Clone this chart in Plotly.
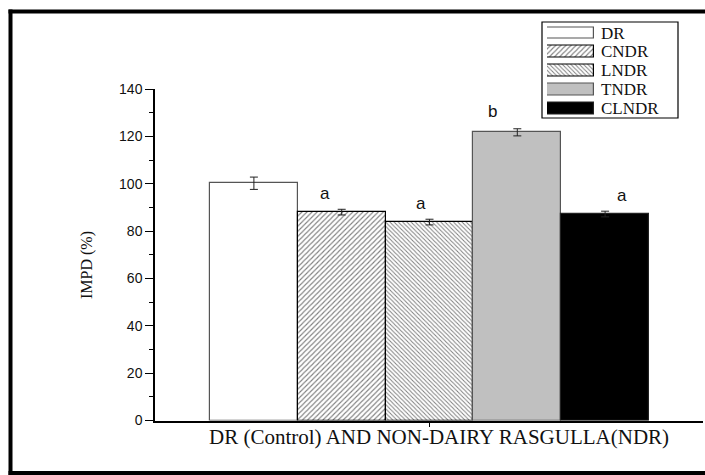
import plotly.graph_objects as go

# Sample groups, mean IMPD (%) and standard deviation
samples = ["DR", "CNDR", "LNDR", "TNDR", "CLNDR"]
impd = [100.2, 88.0, 83.8, 121.7, 87.2]
impd_sd = [2.6, 1.2, 1.2, 1.5, 1.2]
letters = ["", "a", "a", "b", "a"]

y_ticks = [0, 20, 40, 60, 80, 100, 120, 140]
x_title = "DR (Control) AND NON-DAIRY RASGULLA(NDR)"
y_title = "IMPD (%)"

# Per-sample bar styling: fill, hatch, outline
fills = ["white", "white", "white", "#c0c0c0", "black"]
hatches = ["", "/", "\\", "", ""]
hatch_sizes = [6, 3.6, 3.0, 6, 6]
hatch_solidity = [0, 0.3, 0.33, 0, 0]
outlines = ["#555555", "black", "black", "#555555", "#222222"]

SERIF = "Liberation Serif, Times New Roman, serif"
SANS = "Liberation Sans, Arial, sans-serif"

W, H = 705, 475
# Main plot box in pixels
PL, PR, PT, PB = 155, 703, 89, 420.5
center_px = 429.5
bar_px = 87.8
x_lo = -(center_px - PL) / bar_px
x_hi = (PR - center_px) / bar_px


def px_x(px):
    return px / W


def px_y(py):
    return 1 - py / H


def marker_for(i):
    m = dict(color=fills[i], line=dict(color=outlines[i], width=1.2))
    if hatches[i]:
        m["pattern"] = dict(shape=hatches[i], size=hatch_sizes[i],
                            solidity=hatch_solidity[i],
                            fgcolor="black", bgcolor="white", fillmode="overlay")
    return m


fig = go.Figure()
n = len(samples)
for i, name in enumerate(samples):
    pos = i - (n - 1) / 2
    fig.add_trace(go.Bar(
        name=name, x=[pos], y=[impd[i]], width=1,
        marker=marker_for(i),
        error_y=dict(type="data", array=[impd_sd[i]], visible=True,
                     color="#222222", thickness=1, width=4),
        showlegend=False, xaxis="x", yaxis="y",
    ))

# Key: one swatch per sample on a small inset axis
for i, name in enumerate(samples):
    fig.add_trace(go.Bar(
        name=name, y=[name], x=[1], base=0, orientation="h", width=0.62,
        marker=marker_for(i), showlegend=False, hoverinfo="skip",
        xaxis="x2", yaxis="y2",
    ))
    fig.add_annotation(xref="paper", yref="y2", x=px_x(599), y=name,
                       text=name, showarrow=False, xanchor="left",
                       font=dict(family=SERIF, size=17, color="#111111"))

# Key border
fig.add_shape(type="rect", xref="paper", yref="paper",
              x0=px_x(542), x1=px_x(678), y0=px_y(22), y1=px_y(118),
              line=dict(color="black", width=1.2), fillcolor="rgba(0,0,0,0)")

# Significance letters above the bars
letter_dx = [0, -0.19, -0.1, -0.28, 0.19]
letter_dy = [0, 6.5, 6.5, 7.5, 6.5]
for i, lt in enumerate(letters):
    if not lt:
        continue
    pos = i - (n - 1) / 2
    fig.add_annotation(x=pos + letter_dx[i], y=impd[i] + impd_sd[i] + letter_dy[i],
                       xref="x", yref="y", text=lt, showarrow=False,
                       font=dict(family=SANS, size=17, color="#111111"))

# Axis titles
fig.add_annotation(xref="paper", yref="paper", x=px_x(438.7), y=px_y(451),
                   text=x_title, showarrow=False,
                   font=dict(family=SERIF, size=21, color="#111111"))
fig.add_annotation(xref="paper", yref="paper", x=px_x(76), y=px_y(265),
                   text=y_title, textangle=-90, showarrow=False,
                   font=dict(family=SERIF, size=16, color="#111111"))

# Outer black frame (left, top, bottom)
frame = [(8.5, 12.5, 9.5, 475), (8.5, 706, 9.5, 13.5), (8.5, 706, 471, 475)]
for x0, x1, y0, y1 in frame:
    fig.add_shape(type="rect", xref="paper", yref="paper",
                  x0=px_x(x0), x1=px_x(x1), y0=px_y(y0), y1=px_y(y1),
                  fillcolor="black", line=dict(width=0), layer="above")

fig.update_layout(
    width=W, height=H,
    margin=dict(l=0, r=0, t=0, b=0, autoexpand=False),
    paper_bgcolor="white", plot_bgcolor="rgba(0,0,0,0)",
    barmode="overlay", bargap=0,
    showlegend=False,
    xaxis=dict(
        domain=[px_x(PL), px_x(PR)], anchor="y",
        range=[x_lo, x_hi], showgrid=False, zeroline=False,
        showline=True, linecolor="black", linewidth=1.5,
        tickvals=[0], ticktext=[""], ticks="outside", ticklen=5,
        tickcolor="black", tickwidth=1.2,
    ),
    yaxis=dict(
        domain=[px_y(PB), px_y(PT)], anchor="x",
        range=[0, 140], showgrid=False, zeroline=False,
        showline=True, linecolor="black", linewidth=1.5,
        tickvals=y_ticks, ticks="outside", ticklen=8, tickwidth=1.2,
        tickcolor="black",
        tickfont=dict(family=SANS, size=14, color="#111111"),
        minor=dict(dtick=10, ticks="outside", ticklen=4, tickcolor="black",
                   tickwidth=1.2),
    ),
    xaxis2=dict(
        domain=[px_x(547), px_x(594)], anchor="y2", range=[0, 1],
        visible=False, fixedrange=True,
    ),
    yaxis2=dict(
        domain=[px_y(117.7), px_y(23.6)], anchor="x2",
        range=[len(samples) - 0.5, -0.5], type="category",
        categoryorder="array", categoryarray=samples,
        visible=False, fixedrange=True,
    ),
)

fig.write_html("out.html")
